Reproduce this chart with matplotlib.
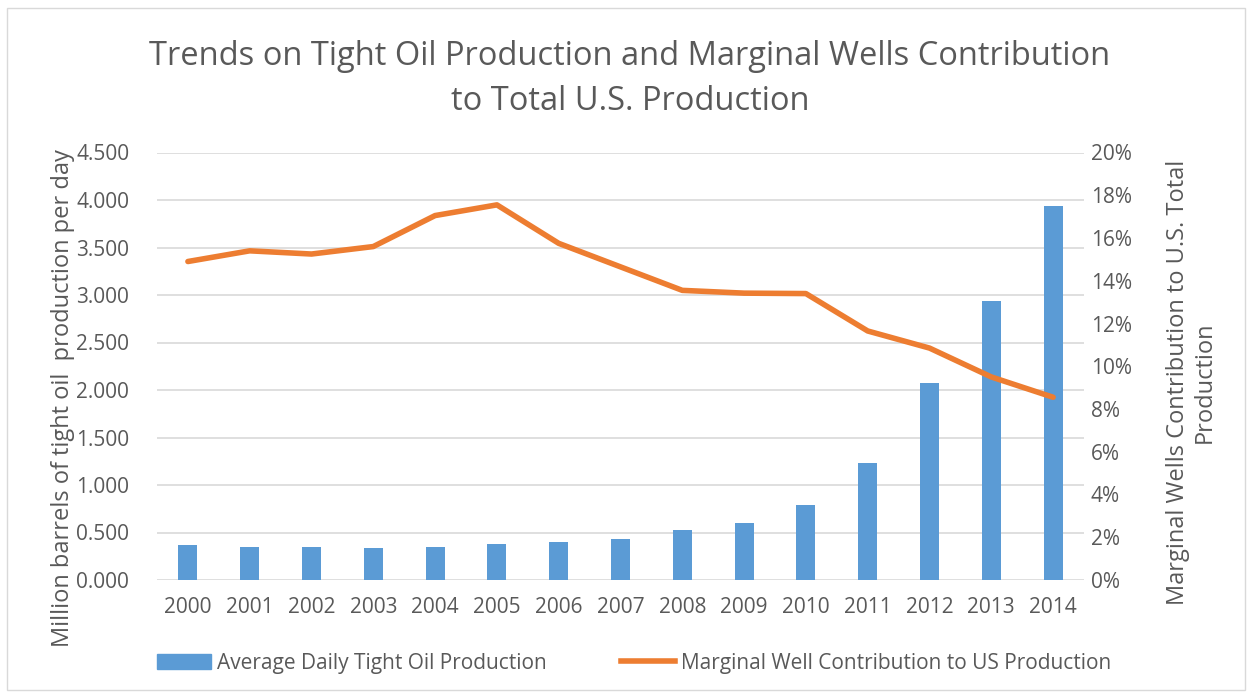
import matplotlib
matplotlib.use("Agg")
import matplotlib.pyplot as plt
from matplotlib.patches import Rectangle
from matplotlib.lines import Line2D
from matplotlib.ticker import FuncFormatter, MultipleLocator

years = ["2000", "2001", "2002", "2003", "2004", "2005", "2006", "2007",
         "2008", "2009", "2010", "2011", "2012", "2013", "2014"]
tight_oil = [0.368, 0.351, 0.344, 0.337, 0.344, 0.379, 0.397, 0.432,
             0.526, 0.596, 0.789, 1.235, 2.070, 2.933, 3.937]
marginal_pct = [14.9, 15.4, 15.25, 15.6, 17.05, 17.55, 15.75, 14.65,
                13.55, 13.42, 13.4, 11.65, 10.85, 9.5, 8.55]

TXT = "#595959"
BLUE = "#5B9BD5"
ORANGE = "#ED7D31"
GRID = "#D9D9D9"
plt.rcParams["font.family"] = ["Open Sans", "DejaVu Sans"]

fig = plt.figure(figsize=(12.53, 6.98), dpi=100)
fig.patch.set_facecolor("white")
fig.add_artist(Rectangle((7 / 1253, 1 - 690 / 698), 1238 / 1253, 682 / 698,
                         transform=fig.transFigure, fill=False,
                         edgecolor="#D9D9D9", linewidth=1))

W, H = 1253, 698
left, right, top, bottom = 157, 1084, 152.5, 580
ax = fig.add_axes([left / W, 1 - bottom / H, (right - left) / W, (bottom - top) / H])
x = list(range(len(years)))
ax.bar(x, tight_oil, width=0.31, color=BLUE, zorder=2)
ax.set_xlim(-0.5, len(years) - 0.5)
ax.set_ylim(0, 4.5)
ax.yaxis.set_major_locator(MultipleLocator(0.5))
ax.yaxis.set_major_formatter(FuncFormatter(lambda v, p: f"{v:.3f}"))
ax.set_xticks(x)
ax.set_xticklabels(years)
ax.grid(axis="y", color=GRID, linewidth=1.2, zorder=0)
ax.set_axisbelow(True)
for s in ax.spines.values():
    s.set_visible(False)
ax.tick_params(axis="both", length=0, labelsize=15, colors=TXT)
ax.tick_params(axis="y", pad=20)
ax.tick_params(axis="x", pad=12)
ax.set_ylabel("Million barrels of tight oil  production per day", fontsize=17,
              color=TXT)
ax.yaxis.set_label_coords(-0.088, 0.426)

ax2 = ax.twinx()
ax2.plot(x, marginal_pct, color=ORANGE, linewidth=4, solid_capstyle="round",
         solid_joinstyle="round", zorder=3)
ax2.set_ylim(0, 20)
ax2.yaxis.set_major_locator(MultipleLocator(2))
ax2.yaxis.set_major_formatter(FuncFormatter(lambda v, p: f"{v:.0f}%"))
for s in ax2.spines.values():
    s.set_visible(False)
ax2.tick_params(axis="y", length=0, labelsize=15, colors=TXT, pad=5)
ax2.set_ylabel("Marginal Wells Contribution to U.S. Total\nProduction",
               fontsize=17, color=TXT, linespacing=1.15)
ax2.yaxis.set_label_coords(1.088, 0.462)

fig.text(630 / W, 1 - 79 / H, "Trends on Tight Oil Production and Marginal Wells Contribution\nto Total U.S. Production",
         ha="center", va="center", fontsize=23.5, color=TXT, linespacing=1.5)

handles = [Rectangle((0, 0), 1, 1, color=BLUE),
           Line2D([0], [0], color=ORANGE, linewidth=4)]
fig.legend(handles, ["Average Daily Tight Oil Production",
                     "Marginal Well Contribution to US Production"],
           loc="center", bbox_to_anchor=(634 / W, 1 - 663 / H), ncol=2,
           frameon=False, fontsize=15, labelcolor=TXT, handlelength=2.6,
           handletextpad=0.25, columnspacing=3.6)

fig.savefig("out.png", dpi=100, facecolor="white")
